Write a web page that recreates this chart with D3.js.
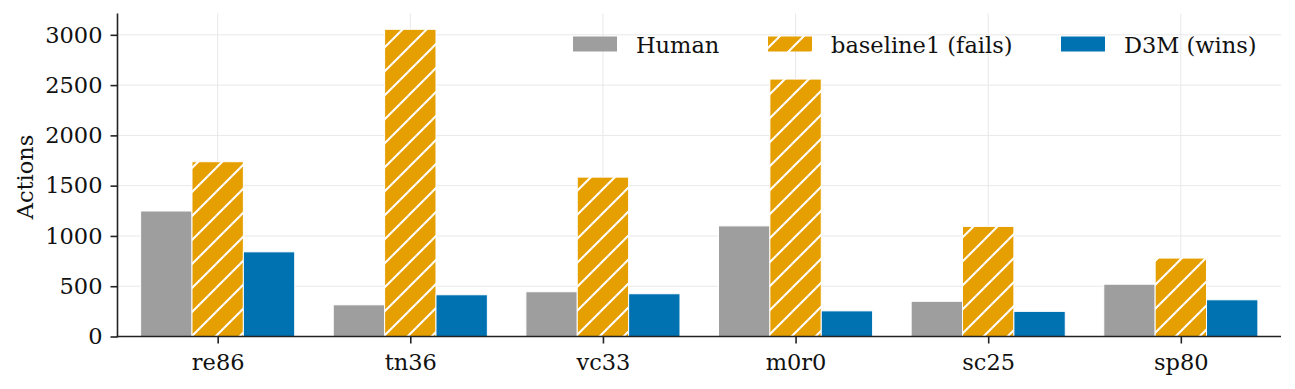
<!DOCTYPE html>
<html>
<head>
<meta charset="utf-8">
<script src="https://cdn.jsdelivr.net/npm/d3@7"></script>
<style>
  body { margin: 0; background: #fff; }
  svg { display: block; font-family: "DejaVu Serif", serif; }
</style>
</head>
<body>
<svg id="chart" width="1295" height="389"></svg>
<script>
// data
const categories = ["re86", "tn36", "vc33", "m0r0", "sc25", "sp80"];
const seriesNames = ["Human", "baseline1 (fails)", "D3M (wins)"];
const human = [1248, 315, 445, 1100, 350, 520];
const baseline1 = [1738, 3055, 1585, 2560, 1095, 780];
const d3m = [842, 415, 425, 255, 250, 365];
const yTicks = [0, 500, 1000, 1500, 2000, 2500, 3000];

const seriesValues = [human, baseline1, d3m];
const colors = ["#9e9e9e", "#e69f00", "#0072b2"];

const svg = d3.select("#chart");
const plotLeft = 117.5, plotRight = 1281, plotTop = 13.5, plotBottom = 336.5;
const fontSize = "22.5px";

const x = d3.scaleLinear().domain([-0.52, 5.52]).range([plotLeft, plotRight]);
const sub = d3.scaleBand().domain(seriesNames).range([-0.4, 0.4]);
const y = d3.scaleLinear().domain([0, 3212]).range([plotBottom, plotTop]);

// hatch pattern
const defs = svg.append("defs");
const pat = defs.append("pattern")
  .attr("id", "hatch")
  .attr("patternUnits", "userSpaceOnUse")
  .attr("width", 24).attr("height", 24);
pat.append("rect").attr("width", 24).attr("height", 24).attr("fill", colors[1]);
pat.append("path")
  .attr("d", "M-6,30 L30,-6 M-6,6 L6,-6 M18,30 L30,18")
  .attr("stroke", "#fff").attr("stroke-width", 2);

// grid
const grid = svg.append("g");
yTicks.forEach(t => {
  grid.append("line")
    .attr("x1", plotLeft).attr("x2", plotRight)
    .attr("y1", y(t)).attr("y2", y(t))
    .attr("stroke", "#e8e8e8").attr("stroke-width", 1);
});
categories.forEach((c, i) => {
  grid.append("line")
    .attr("x1", x(i)).attr("x2", x(i))
    .attr("y1", plotTop).attr("y2", plotBottom)
    .attr("stroke", "#e8e8e8").attr("stroke-width", 1);
});

// bars
const bw = x(sub.bandwidth()) - x(0);
seriesNames.forEach((s, si) => {
  svg.append("g").selectAll("rect")
    .data(seriesValues[si])
    .enter()
    .append("rect")
    .attr("x", (d, i) => x(i + sub(s)))
    .attr("y", d => y(d))
    .attr("width", bw)
    .attr("height", d => y(0) - y(d))
    .attr("fill", si === 1 ? "url(#hatch)" : colors[si])
    .attr("stroke", "#fff")
    .attr("stroke-width", 1);
});

// axes
const yAxis = svg.append("g")
  .attr("transform", `translate(${plotLeft},0)`)
  .call(d3.axisLeft(y).tickValues(yTicks).tickFormat(d3.format("d")).tickSize(7).tickPadding(8));
const xAxis = svg.append("g")
  .attr("transform", `translate(0,${plotBottom})`)
  .call(d3.axisBottom(x).tickValues(d3.range(categories.length))
    .tickFormat(i => categories[i]).tickSize(7).tickPadding(11));

[yAxis, xAxis].forEach(a => {
  a.select(".domain").remove();
  a.selectAll(".tick line").attr("stroke", "#222").attr("stroke-width", 1.6);
  a.selectAll(".tick text")
    .attr("fill", "#111")
    .style("font-family", "DejaVu Serif")
    .style("font-size", fontSize);
});

// spines
svg.append("line")
  .attr("x1", plotLeft).attr("x2", plotLeft).attr("y1", plotTop).attr("y2", plotBottom + 0.8)
  .attr("stroke", "#222").attr("stroke-width", 1.6);
svg.append("line")
  .attr("x1", plotLeft - 0.8).attr("x2", plotRight).attr("y1", plotBottom).attr("y2", plotBottom)
  .attr("stroke", "#222").attr("stroke-width", 1.6);

// y label
svg.append("text")
  .attr("transform", `translate(33,177) rotate(-90)`)
  .attr("text-anchor", "middle")
  .style("font-size", fontSize)
  .attr("fill", "#111")
  .text("Actions");

// legend
const legendX = [573, 768, 1061];
const legend = svg.append("g");
seriesNames.forEach((s, si) => {
  legend.append("rect")
    .attr("x", legendX[si]).attr("y", 36.5)
    .attr("width", 44).attr("height", 15)
    .attr("fill", si === 1 ? "url(#hatch)" : colors[si]);
  legend.append("text")
    .attr("x", legendX[si] + 63).attr("y", 53)
    .style("font-size", fontSize)
    .attr("fill", "#111")
    .text(s);
});
</script>
</body>
</html>
